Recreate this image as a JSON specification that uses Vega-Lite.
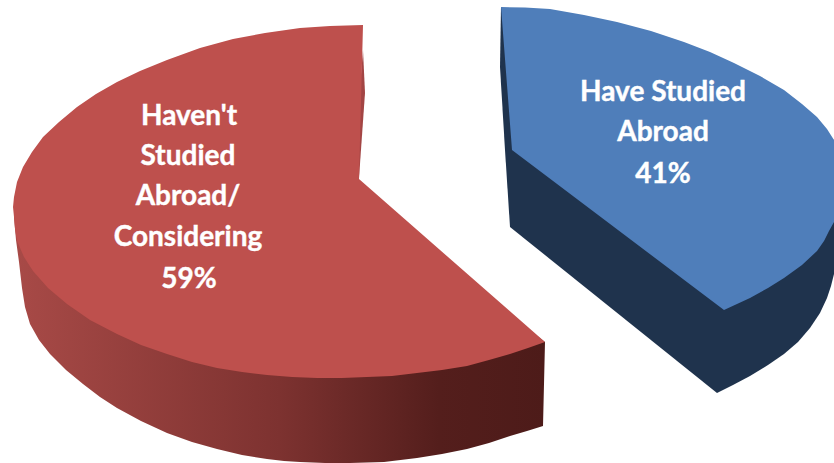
{
"$schema":"https://vega.github.io/schema/vega-lite/v6.json",
"width":834,"height":463,"autosize":{"type":"fit","contains":"padding"},"padding":0,
"background":"white","view":{"stroke":null},
"datasets":{
"shapes":[
{"s":"redWall","o":1,"x":14,"y":217},{"s":"redWall","o":2,"x":16,"y":240},{"s":"redWall","o":3,"x":19,"y":262},{"s":"redWall","o":4,"x":22,"y":288},{"s":"redWall","o":5,"x":25,"y":307},{"s":"redWall","o":6,"x":30,"y":324},{"s":"redWall","o":7,"x":39,"y":340},{"s":"redWall","o":8,"x":50,"y":354},{"s":"redWall","o":9,"x":66,"y":370},{"s":"redWall","o":10,"x":83,"y":384},{"s":"redWall","o":11,"x":100,"y":397},{"s":"redWall","o":12,"x":117,"y":408},{"s":"redWall","o":13,"x":141,"y":421},{"s":"redWall","o":14,"x":167,"y":433},{"s":"redWall","o":15,"x":192,"y":442},{"s":"redWall","o":16,"x":217,"y":449},{"s":"redWall","o":17,"x":242,"y":455},{"s":"redWall","o":18,"x":267,"y":459},{"s":"redWall","o":19,"x":284,"y":461},{"s":"redWall","o":20,"x":300,"y":462},{"s":"redWall","o":21,"x":325,"y":463},{"s":"redWall","o":22,"x":350,"y":463},{"s":"redWall","o":23,"x":384,"y":462},{"s":"redWall","o":24,"x":417,"y":458},{"s":"redWall","o":25,"x":442,"y":454},{"s":"redWall","o":26,"x":467,"y":449},{"s":"redWall","o":27,"x":489,"y":443},{"s":"redWall","o":28,"x":510,"y":436},{"s":"redWall","o":29,"x":527,"y":431},{"s":"redWall","o":30,"x":543,"y":426},{"s":"redWall","o":31,"x":545,"y":342},{"s":"redWall","o":32,"x":359,"y":200},{"s":"redWall","o":33,"x":14,"y":217},
{"s":"redInner","o":1,"x":363,"y":50},{"s":"redInner","o":2,"x":365,"y":93},{"s":"redInner","o":3,"x":359,"y":178},{"s":"redInner","o":4,"x":353,"y":174},{"s":"redInner","o":5,"x":363,"y":50},
{"s":"redTop","o":1,"x":363,"y":25},{"s":"redTop","o":2,"x":330,"y":26},{"s":"redTop","o":3,"x":300,"y":28},{"s":"redTop","o":4,"x":265,"y":33},{"s":"redTop","o":5,"x":233,"y":39},{"s":"redTop","o":6,"x":200,"y":48},{"s":"redTop","o":7,"x":167,"y":60},{"s":"redTop","o":8,"x":140,"y":71},{"s":"redTop","o":9,"x":117,"y":82},{"s":"redTop","o":10,"x":96,"y":94},{"s":"redTop","o":11,"x":77,"y":107},{"s":"redTop","o":12,"x":59,"y":122},{"s":"redTop","o":13,"x":43,"y":137},{"s":"redTop","o":14,"x":32,"y":152},{"s":"redTop","o":15,"x":23,"y":167},{"s":"redTop","o":16,"x":17,"y":182},{"s":"redTop","o":17,"x":14,"y":197},{"s":"redTop","o":18,"x":13,"y":207},{"s":"redTop","o":19,"x":14,"y":217},{"s":"redTop","o":20,"x":15,"y":229},{"s":"redTop","o":21,"x":17,"y":241},{"s":"redTop","o":22,"x":24,"y":257},{"s":"redTop","o":23,"x":33,"y":271},{"s":"redTop","o":24,"x":48,"y":288},{"s":"redTop","o":25,"x":67,"y":304},{"s":"redTop","o":26,"x":90,"y":320},{"s":"redTop","o":27,"x":117,"y":334},{"s":"redTop","o":28,"x":141,"y":345},{"s":"redTop","o":29,"x":167,"y":354},{"s":"redTop","o":30,"x":192,"y":362},{"s":"redTop","o":31,"x":217,"y":368},{"s":"redTop","o":32,"x":242,"y":372},{"s":"redTop","o":33,"x":267,"y":375},{"s":"redTop","o":34,"x":292,"y":377},{"s":"redTop","o":35,"x":317,"y":378},{"s":"redTop","o":36,"x":342,"y":378},{"s":"redTop","o":37,"x":367,"y":377},{"s":"redTop","o":38,"x":392,"y":376},{"s":"redTop","o":39,"x":417,"y":373},{"s":"redTop","o":40,"x":442,"y":370},{"s":"redTop","o":41,"x":467,"y":366},{"s":"redTop","o":42,"x":489,"y":360},{"s":"redTop","o":43,"x":510,"y":354},{"s":"redTop","o":44,"x":528,"y":348},{"s":"redTop","o":45,"x":545,"y":342},{"s":"redTop","o":46,"x":359,"y":179},{"s":"redTop","o":47,"x":363,"y":25},
{"s":"blueWall","o":1,"x":501,"y":7},{"s":"blueWall","o":2,"x":500,"y":67},{"s":"blueWall","o":3,"x":505,"y":150},{"s":"blueWall","o":4,"x":510,"y":227},{"s":"blueWall","o":5,"x":717,"y":393},{"s":"blueWall","o":6,"x":733,"y":385},{"s":"blueWall","o":7,"x":750,"y":376},{"s":"blueWall","o":8,"x":768,"y":365},{"s":"blueWall","o":9,"x":784,"y":354},{"s":"blueWall","o":10,"x":798,"y":342},{"s":"blueWall","o":11,"x":810,"y":328},{"s":"blueWall","o":12,"x":820,"y":313},{"s":"blueWall","o":13,"x":827,"y":298},{"s":"blueWall","o":14,"x":831,"y":286},{"s":"blueWall","o":15,"x":834,"y":274},{"s":"blueWall","o":16,"x":834,"y":140},{"s":"blueWall","o":17,"x":501,"y":7},
{"s":"blueTop","o":1,"x":501,"y":7},{"s":"blueTop","o":2,"x":525,"y":7.5},{"s":"blueTop","o":3,"x":550,"y":9},{"s":"blueTop","o":4,"x":584,"y":15},{"s":"blueTop","o":5,"x":617,"y":22},{"s":"blueTop","o":6,"x":651,"y":31},{"s":"blueTop","o":7,"x":684,"y":42},{"s":"blueTop","o":8,"x":710,"y":52},{"s":"blueTop","o":9,"x":734,"y":63},{"s":"blueTop","o":10,"x":760,"y":76},{"s":"blueTop","o":11,"x":784,"y":90},{"s":"blueTop","o":12,"x":802,"y":104},{"s":"blueTop","o":13,"x":817,"y":117},{"s":"blueTop","o":14,"x":827,"y":129},{"s":"blueTop","o":15,"x":834,"y":140},{"s":"blueTop","o":16,"x":834,"y":222},{"s":"blueTop","o":17,"x":829,"y":231},{"s":"blueTop","o":18,"x":824,"y":241},{"s":"blueTop","o":19,"x":817,"y":251},{"s":"blueTop","o":20,"x":802,"y":265},{"s":"blueTop","o":21,"x":784,"y":278},{"s":"blueTop","o":22,"x":768,"y":288},{"s":"blueTop","o":23,"x":750,"y":298},{"s":"blueTop","o":24,"x":737,"y":304},{"s":"blueTop","o":25,"x":724,"y":310},{"s":"blueTop","o":26,"x":512,"y":150},{"s":"blueTop","o":27,"x":501,"y":7}
],
"labels":[
{"t":"Haven't","x":189,"y":125},{"t":"Studied","x":188,"y":165},{"t":"Abroad/","x":188,"y":205},{"t":"Considering","x":188,"y":246},{"t":"59%","x":189,"y":288},
{"t":"Have Studied","x":663,"y":101},{"t":"Abroad","x":663,"y":141},{"t":"41%","x":663,"y":183}
]},
"encoding":{
"x":{"field":"x","type":"quantitative","scale":{"domain":[0,834],"nice":false,"zero":false},"axis":null},
"y":{"field":"y","type":"quantitative","scale":{"domain":[463,0],"nice":false,"zero":false},"axis":null}
},
"layer":[
{"data":{"name":"shapes"},"transform":[{"filter":"datum.s==='redWall'"}],"mark":{"type":"line","strokeWidth":0,"fill":{"x1":0,"x2":1,"y1":0,"y2":0,"gradient":"linear","stops":[{"offset":0,"color":"#a84a47"},{"offset":0.5,"color":"#7d3230"},{"offset":0.8,"color":"#541e1c"},{"offset":1,"color":"#4d1b19"}]}},"encoding":{"order":{"field":"o","type":"quantitative"}}},
{"data":{"name":"shapes"},"transform":[{"filter":"datum.s==='redInner'"}],"mark":{"type":"line","strokeWidth":0,"fill":"#a34544"},"encoding":{"order":{"field":"o","type":"quantitative"}}},
{"data":{"name":"shapes"},"transform":[{"filter":"datum.s==='redTop'"}],"mark":{"type":"line","strokeWidth":0,"fill":"#be504d"},"encoding":{"order":{"field":"o","type":"quantitative"}}},
{"data":{"name":"shapes"},"transform":[{"filter":"datum.s==='blueWall'"}],"mark":{"type":"line","strokeWidth":0,"fill":"#1f334d"},"encoding":{"order":{"field":"o","type":"quantitative"}}},
{"data":{"name":"shapes"},"transform":[{"filter":"datum.s==='blueTop'"}],"mark":{"type":"line","strokeWidth":0,"fill":"#4f7eba"},"encoding":{"order":{"field":"o","type":"quantitative"}}},
{"data":{"name":"labels"},"mark":{"type":"text","font":"Lato","fontWeight":"bold","fontSize":28,"color":"white","stroke":"white","strokeWidth":0.4,"align":"center","baseline":"alphabetic"},"encoding":{"text":{"field":"t"}}}
]
}
